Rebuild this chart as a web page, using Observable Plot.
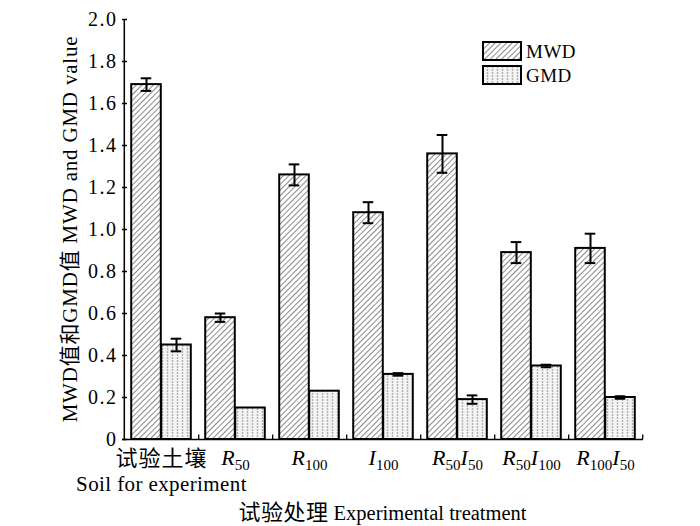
<!DOCTYPE html>
<html><head><meta charset="utf-8">
<script src="https://cdn.jsdelivr.net/npm/d3@7"></script>
<script src="https://cdn.jsdelivr.net/npm/@observablehq/plot@0.6"></script>
<style>body{margin:0;background:#fff} #chart{width:700px;height:526px;position:relative}</style>
</head><body><div id="chart"></div>
<script>
// ---- data ----
const groups = ["试验土壤", "R50", "R100", "I100", "R50I50", "R50I100", "R100I50"];
const tickLabels = ["试验土壤\nSoil for experiment", "R50", "R100", "I100", "R50I50", "R50I100", "R100I50"];
const mwd    = [1.69, 0.58, 1.26, 1.08, 1.36, 0.89, 0.91];
const mwdErr = [0.03, 0.02, 0.05, 0.05, 0.09, 0.05, 0.07];
const gmd    = [0.45, 0.15, 0.23, 0.31, 0.19, 0.35, 0.20];
const gmdErr = [0.03, 0.00, 0.00, 0.006, 0.02, 0.006, 0.006];
const yTicks = [0, 0.2, 0.4, 0.6, 0.8, 1.0, 1.2, 1.4, 1.6, 1.8, 2.0];
const seriesNames = ["MWD", "GMD"];
const xTitleZh = "试验处理", xTitleEn = " Experimental treatment";
const yTitle = "MWD值和GMD值 MWD and GMD value";

// ---- layout ----
const W = 700, H = 526, mL = 122, mR = 57, mT = 19, mB = 87;
const bw = (W - mL - mR) / groups.length;
const barW = 30, pad = (bw - 2 * barW) / 2, capW = 11;
const font = "'Liberation Serif', 'Times New Roman', Tinos, 'DejaVu Serif', serif, 'Noto Sans CJK SC'";

const rows = groups.map((g, i) => ({group: g, mwd: mwd[i], mwdErr: mwdErr[i], gmd: gmd[i], gmdErr: gmdErr[i]}));
const mwdE = rows.filter(d => d.mwdErr > 0);
const gmdE = rows.filter(d => d.gmdErr > 0);
const labelMap = new Map(groups.map((g, i) => [g, tickLabels[i]]));
const capInset = (bw - capW) / 2;
const offM = -(bw / 2) + pad + barW / 2;
const offG = (bw / 2) - pad - barW / 2;

const errMarks = (data, v, e, off) => [
  Plot.ruleX(data, {x: "group", y1: d => d[v] - d[e], y2: d => d[v] + d[e], dx: off, stroke: "black", strokeWidth: 2}),
  Plot.tickY(data, {x: "group", y: d => d[v] + d[e], dx: off, insetLeft: capInset, insetRight: capInset, stroke: "black", strokeWidth: 2}),
  Plot.tickY(data, {x: "group", y: d => d[v] - d[e], dx: off, insetLeft: capInset, insetRight: capInset, stroke: "black", strokeWidth: 2})
];

const svg = Plot.plot({
  width: W, height: H, marginLeft: mL, marginRight: mR, marginTop: mT, marginBottom: mB,
  style: {fontFamily: font, fontSize: "19px", background: "white", color: "black"},
  x: {type: "band", domain: groups, padding: 0},
  y: {domain: [0, 2]},
  marks: [
    Plot.barY(rows, {x: "group", y: "mwd", fill: "url(#hatchMWD)", stroke: "black", strokeWidth: 2, insetLeft: pad, insetRight: pad + barW}),
    Plot.barY(rows, {x: "group", y: "gmd", fill: "url(#dotGMD)", stroke: "black", strokeWidth: 2, insetLeft: pad + barW, insetRight: pad}),
    ...errMarks(mwdE, "mwd", "mwdErr", offM),
    ...errMarks(gmdE, "gmd", "gmdErr", offG),
    Plot.ruleY([0], {stroke: "black", strokeWidth: 1.5}),
    Plot.ruleX([groups[0]], {x: d => d, dx: -bw / 2, y1: 0, y2: 2, stroke: "black", strokeWidth: 1.5}),
    Plot.ruleX(groups, {x: d => d, dx: bw / 2, y1: 0, y2: 0.022, stroke: "black", strokeWidth: 1.3}),
    Plot.tickY(yTicks, {y: d => d, insetRight: (W - mL - mR) - 5, stroke: "black", strokeWidth: 1.5}),
    Plot.axisY({ticks: yTicks, tickSize: 0, tickPadding: 5, fontSize: 20, label: null,
      tickFormat: d => d === 0 ? "0" : d.toFixed(1)}),
    Plot.axisX({tickSize: 0, tickPadding: 7, fontSize: 21, lineHeight: 1.22, label: null,
      tickFormat: d => labelMap.get(d)})
  ]
});

const s = d3.select(svg);
s.selectAll("text").attr("font-family", font).style("font-family", font);
s.selectAll('g[aria-label="y-axis tick label"] text').attr("letter-spacing", 1.5);
const defs = s.insert("defs", ":first-child");
const p1 = defs.append("pattern").attr("id", "hatchMWD").attr("patternUnits", "userSpaceOnUse")
  .attr("width", 4).attr("height", 4).attr("patternTransform", "rotate(45)");
p1.append("rect").attr("width", 4).attr("height", 4).attr("fill", "white");
p1.append("line").attr("x1", 0.5).attr("y1", 0).attr("x2", 0.5).attr("y2", 4).attr("stroke", "#7a7a7a").attr("stroke-width", 0.9);
const p2 = defs.append("pattern").attr("id", "dotGMD").attr("patternUnits", "userSpaceOnUse")
  .attr("width", 5).attr("height", 3);
p2.append("rect").attr("width", 5).attr("height", 3).attr("fill", "#f4f4f4");
p2.append("line").attr("x1", 2.5).attr("y1", 0).attr("x2", 2.5).attr("y2", 3).attr("stroke", "#b0b0b0").attr("stroke-width", 1.4).attr("stroke-dasharray", "2,1");

// subscripts on tick labels
s.selectAll('g[aria-label="x-axis tick label"] text').each(function () {
  const t = this.textContent;
  if (!/^[RI]\d/.test(t)) {
    const ts = this.querySelectorAll("tspan");
    if (ts[0]) { ts[0].setAttribute("font-size", 22); ts[0].setAttribute("letter-spacing", 1); }
    if (ts[1]) { ts[1].setAttribute("letter-spacing", 0.4); }
    return;
  }
  const parts = t.match(/[A-Z]|\d+/g);
  this.textContent = "";
  let sub = false;
  parts.forEach(p => {
    const ts = d3.select(this).append("tspan").text(p);
    if (/\d/.test(p)) {
      ts.attr("font-size", 15).attr("dy", sub ? null : "0.35em");
      sub = true;
    } else {
      ts.attr("font-style", "italic").attr("font-size", 22);
      if (sub) ts.attr("dy", "-0.24em");
      sub = false;
    }
  });
});

// axis titles
const xt = s.append("text").attr("x", (mL + W - mR) / 2).attr("y", 520).attr("text-anchor", "middle")
  .style("font-family", font);
xt.append("tspan").attr("font-size", 22).attr("letter-spacing", 0.5).text(xTitleZh);
xt.append("tspan").attr("font-size", 20.5).text(xTitleEn);
s.append("text").attr("transform", `translate(77,${(mT + H - mB) / 2}) rotate(-90)`).attr("text-anchor", "middle")
  .attr("font-size", 21).attr("letter-spacing", 0.8).style("font-family", font).text(yTitle);

// legend
const lg = s.append("g").style("font-family", font).attr("font-size", 19).attr("text-anchor", "start");
seriesNames.forEach((n, i) => {
  const y0 = 42 + i * 24;
  lg.append("rect").attr("x", 483).attr("y", y0).attr("width", 38).attr("height", 18)
    .attr("fill", i === 0 ? "url(#hatchMWD)" : "url(#dotGMD)").attr("stroke", "black").attr("stroke-width", 2);
  lg.append("text").attr("x", 526).attr("y", y0 + 16).attr("letter-spacing", 0.5).text(n);
});

document.getElementById("chart").appendChild(svg);
</script></body></html>
